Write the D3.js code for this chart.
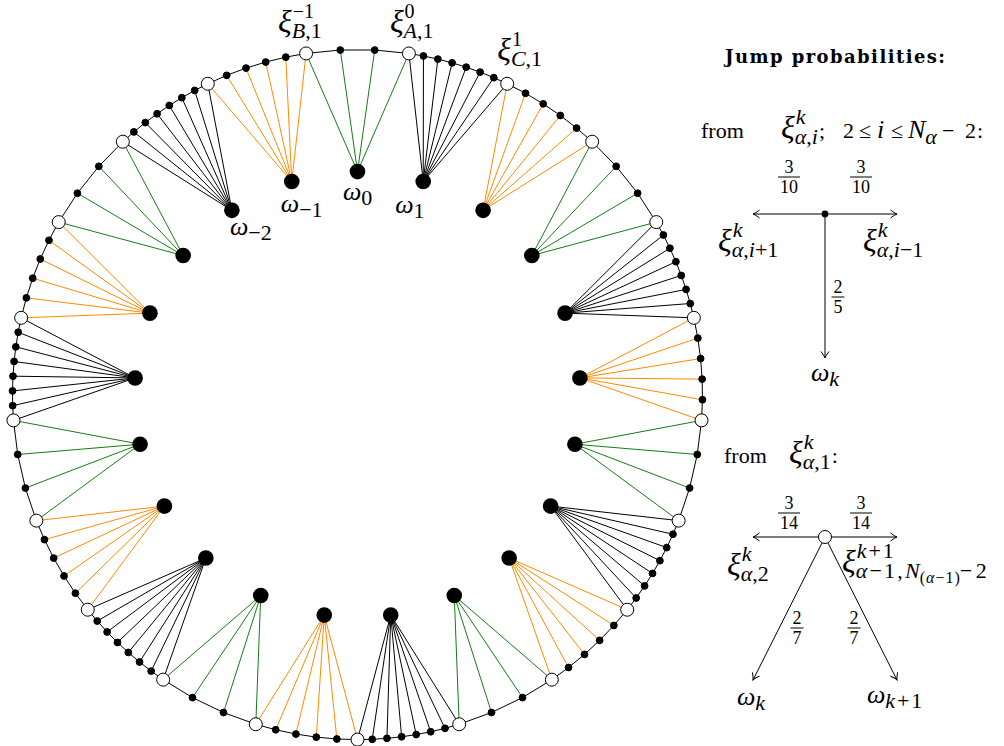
<!DOCTYPE html>
<html>
<head>
<meta charset="utf-8">
<script src="https://cdn.jsdelivr.net/npm/d3@7"></script>
<style>
  body { margin: 0; background: #fff; }
  svg { display: block; }
  text { font-family: 'Liberation Serif', 'DejaVu Serif', serif; fill: #000; }
</style>
</head>
<body>
<div id="chart"></div>
<script>
// Ring of sites: 21 groups, omega index k runs -10..10 clockwise, omega_0 on top
const omegaIndex = [-10, -9, -8, -7, -6, -5, -4, -3, -2, -1, 0, 1, 2, 3, 4, 5, 6, 7, 8, 9, 10];
const groupKinds = ['B', 'A', 'C', 'B', 'A', 'C', 'B', 'A', 'C', 'B', 'A', 'C', 'B', 'A', 'C', 'B', 'A', 'C', 'B', 'A', 'C'];
// number of boundary intervals per kind (points = intervals + 1, ends shared)
const kindIntervals = { A: 3, B: 5, C: 7 };

// labelled sites
const omegaLabels = [
    { k: -2, sub: '−2' },
    { k: -1, sub: '−1' },
    { k: 0, sub: '0' },
    { k: 1, sub: '1' }
];
const xiLabels = [
    { k: -1, sup: '−1', sub: 'B,1' },
    { k: 0, sup: '0', sub: 'A,1' },
    { k: 1, sup: '1', sub: 'C,1' }
];

// jump probabilities
const bulkProbs = { left: ['3', '10'], right: ['3', '10'], down: ['2', '5'] };
const edgeProbs = { left: ['3', '14'], right: ['3', '14'], downLeft: ['2', '7'], downRight: ['2', '7'] };

// ---- layout / style (not data) ----
const W = 1004, H = 746;
const cx = 357.5, cy = 394.6;
const kindColor = { A: '#167d16', B: '#ff8a00', C: '#000' };
const omegaLabelOffset = { '-2': [-2, 25], '-1': [-11, 30], '0': [-14.5, 28], '1': [-28, 31] };
const xiLabelOffset = { '-1': [-28, -21], '0': [-19, -21], '1': [-10, -24] };

const svg = d3.select('#chart').append('svg')
    .attr('width', W).attr('height', H);

const defs = svg.append('defs');
defs.append('marker')
    .attr('id', 'arr')
    .attr('viewBox', '-10 -10 20 20')
    .attr('markerUnits', 'userSpaceOnUse')
    .attr('markerWidth', 20).attr('markerHeight', 20)
    .attr('refX', 0).attr('refY', 0)
    .attr('orient', 'auto')
    .append('path')
    .attr('d', 'M-6.5,-4 Q-2.5,-0.8 0,0 Q-2.5,0.8 -6.5,4')
    .attr('fill', 'none').attr('stroke', '#000').attr('stroke-width', 1);

// angle scale: group position (k-0.5 .. k+0.5) -> radians clockwise from top
const nGroups = omegaIndex.length;
const angle = d3.scaleLinear().domain([0, nGroups]).range([0, 2 * Math.PI]);
// radial scale: 0 = omega ring, 1 = boundary ring
const radius = d3.scaleLinear().domain([0, 1]).range([223, 345]);

function polar(pos, level) {
    const a = angle(pos), r = radius(level);
    return [cx + r * Math.sin(a), cy - r * Math.cos(a)];
}

// build groups and boundary sites
const groups = omegaIndex.map((k, gi) => {
    const kind = groupKinds[gi];
    const n = kindIntervals[kind];
    const pts = d3.range(n + 1).map(j => ({
        pos: k - 0.5 + j / n,
        open: j === 0 || j === n
    }));
    return { k, kind, n, pts, omega: polar(k, 0) };
});

const boundary = [];
groups.forEach(g => g.pts.slice(0, -1).forEach(p => boundary.push(p)));

// connecting lines omega -> boundary sites
const gLinks = svg.append('g');
groups.forEach(g => {
    gLinks.selectAll(null)
        .data(g.pts)
        .enter().append('line')
        .attr('x1', g.omega[0]).attr('y1', g.omega[1])
        .attr('x2', d => polar(d.pos, 1)[0])
        .attr('y2', d => polar(d.pos, 1)[1])
        .attr('stroke', kindColor[g.kind])
        .attr('stroke-width', 1);
});

// boundary polygon
svg.append('path')
    .datum(boundary)
    .attr('d', d3.line().x(d => polar(d.pos, 1)[0]).y(d => polar(d.pos, 1)[1]).curve(d3.curveLinearClosed))
    .attr('fill', 'none').attr('stroke', '#000').attr('stroke-width', 1);

// boundary sites
svg.append('g').selectAll('circle')
    .data(boundary)
    .enter().append('circle')
    .attr('cx', d => polar(d.pos, 1)[0])
    .attr('cy', d => polar(d.pos, 1)[1])
    .attr('r', d => d.open ? 6.5 : 3.4)
    .attr('fill', d => d.open ? '#fff' : '#000')
    .attr('stroke', '#000').attr('stroke-width', 1);

// omega sites
svg.append('g').selectAll('circle')
    .data(groups)
    .enter().append('circle')
    .attr('cx', d => d.omega[0]).attr('cy', d => d.omega[1])
    .attr('r', 7.8).attr('fill', '#000');

// ---- math text helpers ----
const isItalic = ch => /[A-Za-z\u03b1-\u03c9]/.test(ch);

function run(g, x, y, size, str, roman, w) {
    const t = g.append('text').attr('x', x).attr('y', y).style('font-size', size + 'px');
    let buf = '', it = null;
    const flush = () => {
        if (!buf) return;
        t.append('tspan').style('font-style', it ? 'italic' : 'normal').text(buf);
        buf = '';
    };
    for (const ch of str) {
        const ci = roman ? false : isItalic(ch);
        if (it !== null && ci !== it) flush();
        it = ci;
        buf += ch;
    }
    flush();
    if (w) {
        t.attr('textLength', w).attr('lengthAdjust', 'spacing');
        return w;
    }
    return t.node().getComputedTextLength();
}

function layout(g, x, y, seq) {
    let px = x;
    seq.forEach(p => {
        if (p.stack) {
            const ends = p.stack.map(s => layout(g, px, y, s));
            px = Math.max(...ends);
        } else {
            if (p.x !== undefined) px = p.x;
            px += p.gap || 0;
            px += run(g, px, y + (p.dy || 0), p.size, p.s, p.roman, p.w);
        }
    });
    return px;
}

const XI = 32, OM = 26, S = 22, T = 22;
const UP = -14, DN = 6;
const sym = (base, sup, sub, supSize) => [
    { s: base, size: XI },
    { stack: [[{ s: sup, size: supSize || S, dy: UP, gap: 1 }], [{ s: sub, size: S, dy: DN, gap: 0 }]] }
];

const gText = svg.append('g');

// omega labels
omegaLabels.forEach(d => {
    const p = polar(d.k, 0), o = omegaLabelOffset[d.k];
    layout(gText, p[0] + o[0], p[1] + o[1], [
        { s: 'ω', size: OM },
        { s: d.sub, size: S, dy: 5, roman: true }
    ]);
});

// xi labels at the clockwise end of group k
xiLabels.forEach(d => {
    const p = polar(d.k + 0.5, 1), o = xiLabelOffset[d.k];
    layout(gText, p[0] + o[0], p[1] + o[1], sym('ξ', d.sup, d.sub, 20));
});

// ---- legend ----
const gLeg = svg.append('g');

gLeg.append('text')
    .attr('x', 725).attr('y', 63)
    .attr('textLength', 220).attr('lengthAdjust', 'spacing')
    .style('font-family', "'DejaVu Serif', serif")
    .style('font-weight', 'bold').style('font-size', '18px')
    .text('Jump probabilities:');

function frac(g, x, yBar, pair) {
    const t1 = g.append('text').attr('x', x).attr('y', yBar - 4)
        .attr('text-anchor', 'middle').style('font-size', '18px').text(pair[0]);
    const t2 = g.append('text').attr('x', x).attr('y', yBar + 16)
        .attr('text-anchor', 'middle').style('font-size', '18px').text(pair[1]);
    const w = Math.max(t1.node().getComputedTextLength(), t2.node().getComputedTextLength()) + 4;
    g.append('line').attr('x1', x - w / 2).attr('x2', x + w / 2)
        .attr('y1', yBar).attr('y2', yBar)
        .attr('stroke', '#000').attr('stroke-width', 1);
}

function arrow(g, from, to) {
    g.append('line')
        .attr('x1', from[0]).attr('y1', from[1])
        .attr('x2', to[0]).attr('y2', to[1])
        .attr('stroke', '#000').attr('stroke-width', 1)
        .attr('marker-end', 'url(#arr)');
}

// from xi_{alpha,i}
layout(gLeg, 0, 138, [
    { s: 'from', size: T, roman: true, x: 701 },
    { s: 'ξ', size: XI, x: 781 },
    { stack: [[{ s: 'k', size: S, dy: UP, gap: 1 }], [{ s: 'α,i', size: S, dy: DN, gap: 0 }]] },
    { s: ';', size: T, roman: true, gap: 1 },
    { s: '2', size: T, roman: true, x: 843 },
    { s: '≤', size: T, roman: true, x: 859 },
    { s: 'i', size: 26, x: 877 },
    { s: '≤', size: T, roman: true, x: 891 },
    { s: 'N', size: 26, x: 908 },
    { s: 'α', size: S, dy: DN },
    { s: '−', size: T, roman: true, x: 942 },
    { s: '2', size: T, roman: true, x: 965 },
    { s: ':', size: T, roman: true, gap: 1 }
]);

const c1 = [825, 214];
arrow(gLeg, c1, [753, 214]);
arrow(gLeg, c1, [897, 214]);
arrow(gLeg, c1, [825, 358]);
gLeg.append('circle').attr('cx', c1[0]).attr('cy', c1[1]).attr('r', 3.4).attr('fill', '#000');
frac(gLeg, 789, 177, bulkProbs.left);
frac(gLeg, 861, 177, bulkProbs.right);
frac(gLeg, 838, 297, bulkProbs.down);
layout(gLeg, 718, 251, sym('ξ', 'k', 'α,i+1'));
layout(gLeg, 863, 251, sym('ξ', 'k', 'α,i−1'));
layout(gLeg, 811, 381, [{ s: 'ω', size: OM }, { s: 'k', size: S, dy: 5 }]);

// from xi_{alpha,1}
layout(gLeg, 0, 463, [
    { s: 'from', size: T, roman: true, x: 724 },
    { s: 'ξ', size: XI, x: 789 },
    { stack: [[{ s: 'k', size: S, dy: UP, gap: 1 }], [{ s: 'α,1', size: S, dy: DN, gap: 0 }]] },
    { s: ':', size: T, roman: true, gap: 1 }
]);

const c2 = [825, 537];
arrow(gLeg, c2, [753, 537]);
arrow(gLeg, c2, [897, 537]);
arrow(gLeg, c2, [753, 680]);
arrow(gLeg, c2, [897, 680]);
gLeg.append('circle').attr('cx', c2[0]).attr('cy', c2[1]).attr('r', 6.5)
    .attr('fill', '#fff').attr('stroke', '#000').attr('stroke-width', 1);
frac(gLeg, 789, 513, edgeProbs.left);
frac(gLeg, 861, 513, edgeProbs.right);
frac(gLeg, 797, 628, edgeProbs.downLeft);
frac(gLeg, 854, 628, edgeProbs.downRight);
layout(gLeg, 727, 575, sym('ξ', 'k', 'α,2'));
layout(gLeg, 842, 572, [
    { s: 'ξ', size: XI },
    { stack: [
        [{ s: 'k+1', size: S, dy: UP, gap: 1, w: 37 }],
        [{ s: 'α−1,N', size: S, dy: DN, w: 64 }, { s: '(α−1)', size: 16, dy: 11, w: 40 }, { s: '−2', size: S, dy: DN, w: 27 }]
    ] }
]);
layout(gLeg, 737, 705, [{ s: 'ω', size: OM }, { s: 'k', size: S, dy: 5 }]);
layout(gLeg, 867, 703, [{ s: 'ω', size: OM }, { s: 'k+1', size: S, dy: 5, w: 37 }]);
</script>
</body>
</html>
